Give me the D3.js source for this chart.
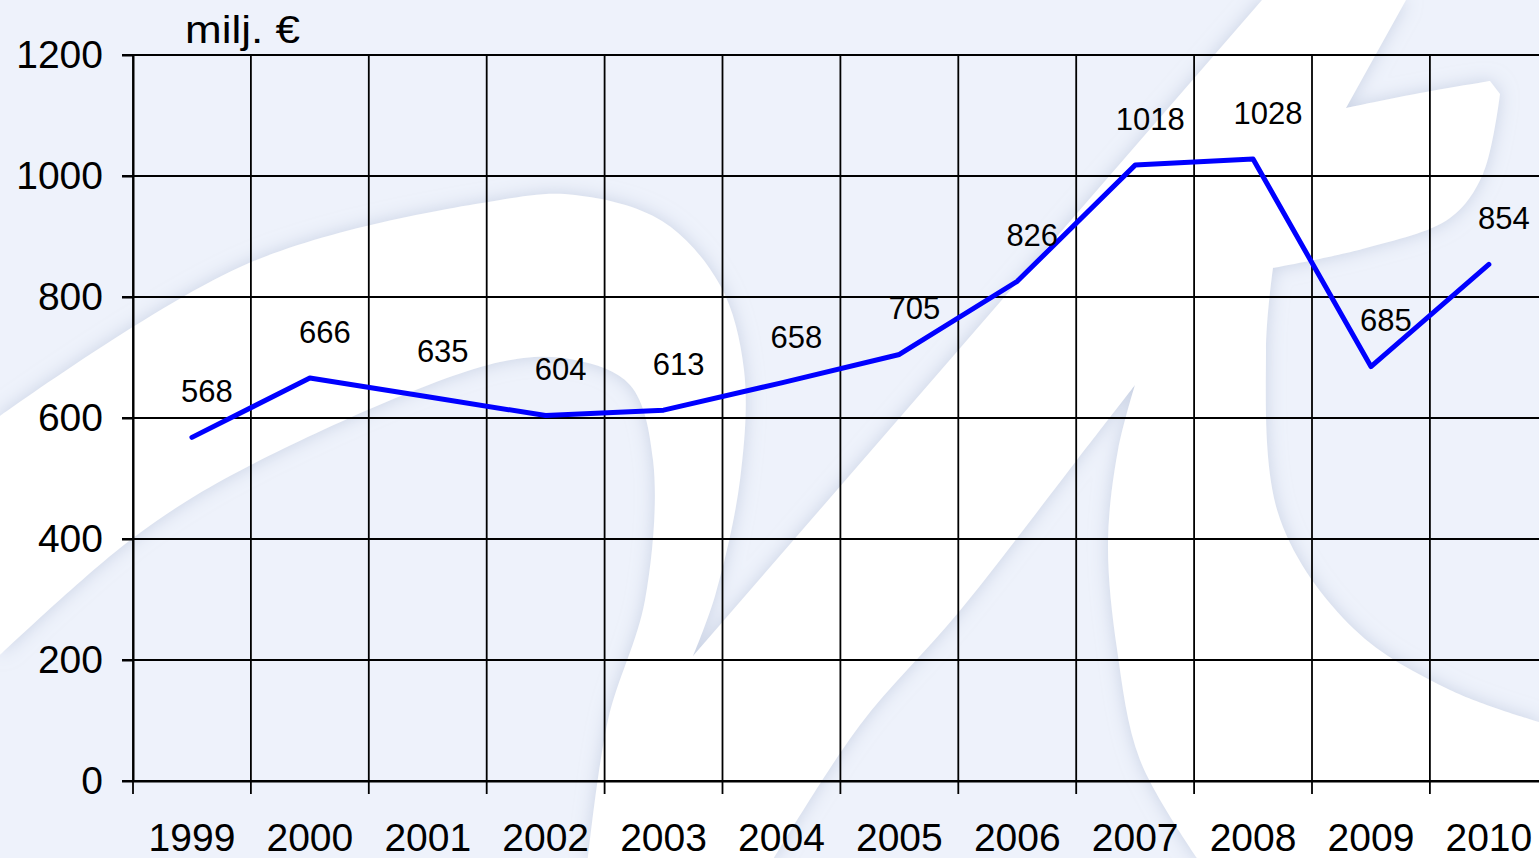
<!DOCTYPE html>
<html>

<head>
    <meta charset="UTF-8">
    <title>milj. €</title>
    <style>
        body {
            margin: 0;
            background-color: #eef2fb;
            overflow: hidden;
        }
        svg text {
            font-family: "Liberation Sans", Arial, sans-serif;
            fill: #000;
        }
    </style>
</head>

<body>
    <svg></svg>
    <script src="https://d3js.org/d3.v7.min.js"></script>
    <script>
        // chart data
        let years = ["1999", "2000", "2001", "2002", "2003", "2004", "2005", "2006", "2007", "2008", "2009", "2010"];
        let values = [568, 666, 635, 604, 613, 658, 705, 826, 1018, 1028, 685, 854];
        let yTicks = [0, 200, 400, 600, 800, 1000, 1200];
        let unitLabel = "milj. €";

        let width = 1539, height = 858;
        let plotLeft = 133, plotTop = 55, plotBottom = 781, step = 117.9;

        let svg = d3.select("svg")
            .attr("width", width)
            .attr("height", height)
            .attr("viewBox", "0 0 " + width + " " + height)

        // background watermark (decoration only)
        let defs = svg.append("defs");
        let f = defs.append("filter").attr("id", "soft")
            .attr("x", "-10%").attr("y", "-10%").attr("width", "120%").attr("height", "120%");
        f.append("feGaussianBlur").attr("in", "SourceAlpha").attr("stdDeviation", 9).attr("result", "b");
        f.append("feFlood").attr("flood-color", "#b9c4da").attr("flood-opacity", 0.7);
        f.append("feComposite").attr("in2", "b").attr("operator", "in").attr("result", "s");
        let m = f.append("feMerge");
        m.append("feMergeNode").attr("in", "s");
        m.append("feMergeNode").attr("in", "SourceGraphic");

        svg.append("rect").attr("width", width).attr("height", height).attr("fill", "#eef2fb");

        let smooth = pts => d3.line().curve(d3.curveCatmullRom.alpha(0.5))(pts).replace(/^M[-\d.,e]+/, "");
        let wm = "M1262,0L1406,0L1346,108"
            + smooth([[1346, 108], [1420, 93], [1490, 81]])
            + "L1500,94"
            + smooth([[1500, 94], [1483, 174], [1450, 218], [1366, 248], [1273, 268]])
            + smooth([[1273, 268], [1266, 351], [1280, 519], [1354, 629], [1450, 690], [1539, 722]])
            + "L1539,858L1197,858"
            + smooth([[1197, 858], [1140, 760], [1117, 649], [1108, 542], [1118, 450], [1135, 385]])
            + smooth([[1135, 385], [1077, 460], [958, 613], [860, 725], [774, 858]])
            + "L588,858"
            + smooth([[588, 858], [608, 720], [645, 600], [653, 460], [630, 385], [575, 360], [500, 362], [249, 466], [133, 538], [0, 655]])
            + "L0,416"
            + smooth([[0, 416], [249, 263], [500, 200], [575, 195], [662, 221], [720, 285], [744, 370], [740, 480], [715, 596], [693, 656]])
            + "L1262,0Z";

        svg.append("path")
            .attr("d", wm)
            .attr("fill", "#fff")
            .attr("filter", "url(#soft)")

        // scales
        let x = d3.scaleBand()
            .domain(years)
            .range([plotLeft, plotLeft + years.length * step])
            .padding(0)

        let y = d3.scaleLinear()
            .domain([0, 1200])
            .range([plotBottom, plotTop])

        // grid
        let grid = svg.append("g").attr("id", "grid")
        grid.selectAll("line.h")
            .data(yTicks)
            .enter()
            .append("line")
            .attr("class", "h")
            .attr("x1", plotLeft - 11)
            .attr("x2", width)
            .attr("y1", d => y(d))
            .attr("y2", d => y(d))
            .attr("stroke", "#000")
            .attr("stroke-width", 2)

        let bounds = years.map(d => x(d)).concat([x(years[years.length - 1]) + x.bandwidth()])
        grid.selectAll("line.v")
            .data(bounds)
            .enter()
            .append("line")
            .attr("class", "v")
            .attr("x1", d => d)
            .attr("x2", d => d)
            .attr("y1", plotTop)
            .attr("y2", plotBottom + 13)
            .attr("stroke", "#000")
            .attr("stroke-width", 1.8)

        // y axis labels
        let yAxis = svg.append("g")
            .attr("transform", "translate(" + plotLeft + ",0)")
            .call(d3.axisLeft(y).tickValues(yTicks).tickFormat(d3.format("d"))
                .tickSize(11).tickSizeOuter(0).tickPadding(19))
        yAxis.selectAll("path, line").attr("stroke", "#000").attr("stroke-width", 2)
        yAxis.selectAll("text")
            .style("font-size", "39px")
            .attr("fill", "#000")

        // x axis labels
        let xAxis = svg.append("g")
            .attr("transform", "translate(0," + plotBottom + ")")
            .call(d3.axisBottom(x).tickSize(0).tickPadding(42))
        xAxis.select(".domain").attr("stroke", "#000").attr("stroke-width", 2)
        xAxis.selectAll("text")
            .style("font-size", "39px")
            .attr("fill", "#000")

        // unit
        svg.append("text")
            .attr("x", 185)
            .attr("y", 43)
            .attr("textLength", 115)
            .attr("lengthAdjust", "spacingAndGlyphs")
            .style("font-size", "39px")
            .text(unitLabel)

        // line
        let pts = years.map((d, i) => [x(d) + x.bandwidth() / 2, y(values[i])])
        svg.append("path")
            .attr("d", d3.line()(pts))
            .attr("fill", "none")
            .attr("stroke", "#0000ff")
            .attr("stroke-width", 5)
            .attr("stroke-linejoin", "round")
            .attr("stroke-linecap", "round")

        // value labels
        svg.append("g")
            .selectAll("text")
            .data(values)
            .enter()
            .append("text")
            .attr("x", (d, i) => x(years[i]) + x.bandwidth() / 2 + 15)
            .attr("y", d => y(d) - 46)
            .attr("dy", "0.35em")
            .attr("text-anchor", "middle")
            .style("font-size", "31px")
            .text(d => d)
    </script>

</body>

</html>
